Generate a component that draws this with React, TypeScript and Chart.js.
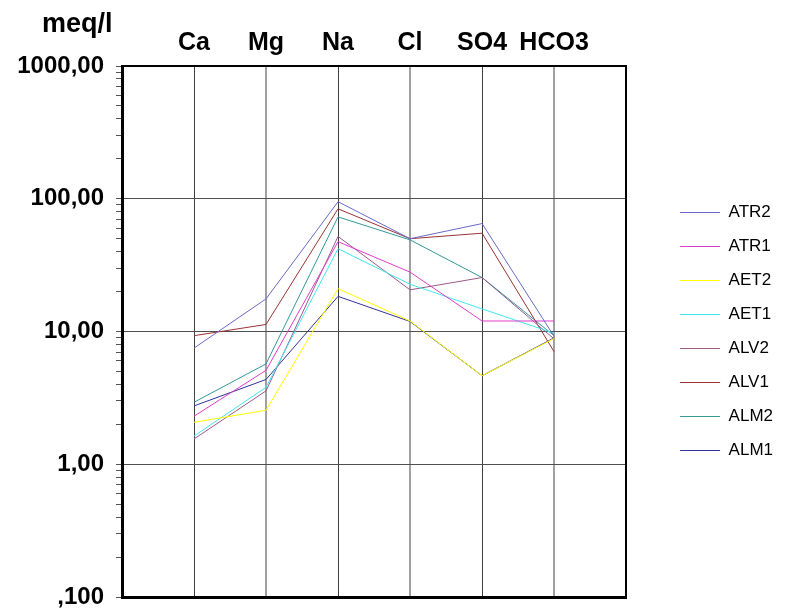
import React, { useEffect, useRef } from 'react';
import { Chart, registerables } from 'chart.js';

Chart.register(...registerables);

const categories = ['Ca', 'Mg', 'Na', 'Cl', 'SO4', 'HCO3'];
const seriesNames = ['ATR2', 'ATR1', 'AET2', 'AET1', 'ALV2', 'ALV1', 'ALM2', 'ALM1'];

const ATR2 = [7.5, 17.6, 95, 50, 65, 9.2];
const ATR1 = [2.3, 5.1, 47.5, 28, 12, 12];
const AET2 = [2.07, 2.55, 21, 12, 4.64, 8.85];
const AET1 = [1.63, 3.8, 42, 22.7, 14.8, 9.7];
const ALV2 = [1.55, 3.57, 52, 20.6, 25.5, 8.8];
const ALV1 = [9.3, 11.3, 84, 50, 55, 7.05];
const ALM2 = [2.93, 5.7, 73, 49, 25.5, 9.3];
const ALM1 = [2.75, 4.35, 18.4, 11.9, 4.64, 8.95];

const seriesValues = [ATR2, ATR1, AET2, AET1, ALV2, ALV1, ALM2, ALM1];
const seriesColors = ['#6a6ac8', '#e03ccc', '#ffff00', '#40e8f0', '#9a5a8c', '#993333', '#339999', '#333399'];

const yMajorValues = [0.1, 1, 10, 100, 1000];
const yMajorLabels = [',100', '1,00', '10,00', '100,00', '1000,00'];
const yMinorSteps = [2, 3, 4, 5, 6, 7, 8, 9];
const yUnit = 'meq/l';

const FONT = '"Liberation Sans", Arial, sans-serif';

export default function App() {
  const ref = useRef<HTMLCanvasElement | null>(null);

  useEffect(() => {
    if (!ref.current) return;
    const catPositions = categories.map((_, i) => i + 1);
    const yTicks: number[] = [];
    yMajorValues.forEach((v, i) => {
      yTicks.push(v);
      if (i < yMajorValues.length - 1) yMinorSteps.forEach((m) => yTicks.push(+(v * m).toPrecision(6)));
    });

    const unitPlugin = {
      id: 'unitLabel',
      afterDraw(chart: any) {
        const ctx = chart.ctx;
        ctx.save();
        ctx.font = `bold 27px ${FONT}`;
        ctx.fillStyle = '#000';
        ctx.textAlign = 'left';
        ctx.textBaseline = 'alphabetic';
        ctx.fillText(yUnit, 42, 32);
        ctx.restore();
      },
    };

    const chart = new Chart(ref.current, {
      type: 'line',
      data: {
        datasets: seriesNames.map((name, i) => ({
          label: name,
          data: seriesValues[i].map((v, j) => ({ x: catPositions[j], y: v })),
          borderColor: seriesColors[i],
          backgroundColor: seriesColors[i],
          borderWidth: 1,
          pointRadius: 0,
          pointStyle: 'line',
          tension: 0,
          fill: false,
        })),
      },
      options: {
        animation: false,
        responsive: false,
        maintainAspectRatio: false,
        layout: { padding: { left: 0, right: 4, top: 0, bottom: 0 } },
        plugins: {
          tooltip: { enabled: false },
          title: { display: false },
          legend: {
            display: true,
            position: 'right',
            fullSize: false,
            labels: {
              usePointStyle: true,
              pointStyleWidth: 40,
              boxHeight: 17,
              padding: 17,
              color: '#000',
              font: { family: FONT, size: 17 },
            },
          },
        },
        scales: {
          x: {
            type: 'linear',
            position: 'bottom',
            min: 0,
            max: categories.length + 1,
            afterBuildTicks: (s: any) => {
              s.ticks = catPositions.map((v) => ({ value: v }));
            },
            afterFit: (s: any) => {
              s.height = 13;
              s.paddingLeft = 0;
              s.paddingRight = 0;
            },
            ticks: { display: false },
            grid: {
              drawTicks: false,
              color: (c: any) => (c.tick && c.tick.value % 2 === 0 ? '#a0a0a0' : '#404040'),
              lineWidth: (c: any) => (c.tick && c.tick.value % 2 === 0 ? 2 : 1),
            },
            border: { display: true, color: '#000', width: 3 },
          },
          x2: {
            type: 'linear',
            position: 'top',
            min: 0,
            max: categories.length + 1,
            afterBuildTicks: (s: any) => {
              s.ticks = catPositions.map((v) => ({ value: v }));
            },
            afterFit: (s: any) => {
              s.height = 66;
              s.paddingLeft = 0;
              s.paddingRight = 0;
            },
            ticks: {
              autoSkip: false,
              maxRotation: 0,
              padding: 8,
              color: '#000',
              font: { family: FONT, size: 25, weight: 'bold' },
              callback: (v: any) => categories[Number(v) - 1] ?? '',
            },
            grid: { display: false, drawTicks: false },
            border: { display: true, color: '#000', width: 2 },
          },
          y: {
            type: 'logarithmic',
            position: 'left',
            min: yMajorValues[0],
            max: yMajorValues[yMajorValues.length - 1],
            afterBuildTicks: (s: any) => {
              s.ticks = yTicks.map((v) => ({ value: v, major: yMajorValues.includes(v) }));
            },
            afterFit: (s: any) => {
              s.width = 122;
              s.paddingTop = 0;
              s.paddingBottom = 0;
            },
            ticks: {
              autoSkip: false,
              padding: 12,
              color: '#000',
              font: { family: FONT, size: 24, weight: 'bold' },
              callback: (v: any) => {
                const idx = yMajorValues.indexOf(Number(v));
                return idx >= 0 ? yMajorLabels[idx] : '';
              },
            },
            grid: {
              color: (c: any) => (c.tick && yMajorValues.includes(c.tick.value) ? '#505050' : 'rgba(0,0,0,0)'),
              tickColor: '#555',
              tickLength: 6,
              lineWidth: 1,
            },
            border: { display: true, color: '#000', width: 3 },
          },
          y2: {
            type: 'logarithmic',
            position: 'right',
            min: yMajorValues[0],
            max: yMajorValues[yMajorValues.length - 1],
            afterFit: (s: any) => {
              s.width = 37;
              s.paddingTop = 0;
              s.paddingBottom = 0;
            },
            ticks: { display: false },
            grid: { display: false, drawTicks: false },
            border: { display: true, color: '#000', width: 2 },
          },
        },
      },
      plugins: [unitPlugin],
    } as any);

    return () => chart.destroy();
  }, []);

  return (
    <div style={{ position: 'absolute', left: 0, top: 0, width: 787, height: 610, background: '#fff' }}>
      <canvas ref={ref} width={787} height={610} style={{ width: 787, height: 610, display: 'block' }} />
    </div>
  );
}
